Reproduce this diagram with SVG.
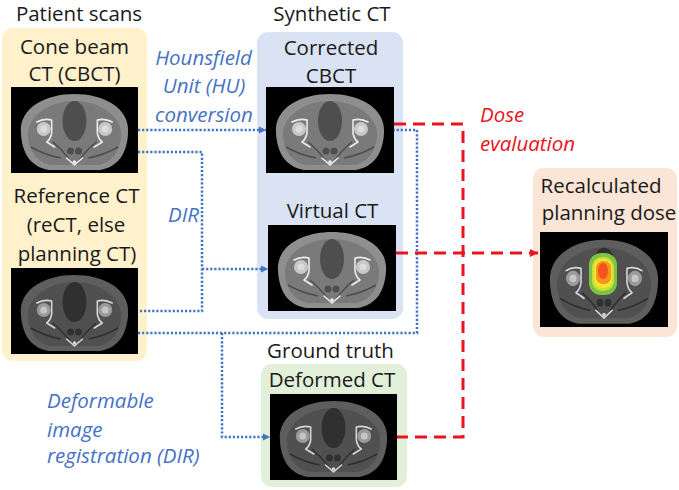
<svg xmlns="http://www.w3.org/2000/svg" xmlns:xlink="http://www.w3.org/1999/xlink" width="679" height="490" viewBox="0 0 679 490">
<style>
text{font-family:"Open Sans","Noto Sans","DejaVu Sans",sans-serif;font-size:20.5px;fill:#1a1a1a}
.c{text-anchor:middle}
.bl{fill:#4472C4;font-style:italic}
.rd{fill:#E8141E;font-style:italic}
.dot{fill:none;stroke:#4472C4;stroke-width:2.5;stroke-dasharray:2.2 1.9}
.dash{fill:none;stroke:#E8141E;stroke-width:3;stroke-dasharray:12 7}
.body{fill:var(--b)}
.mus{fill:var(--m)}
.dk{fill:var(--d)}
.bone{fill:none;stroke:var(--bone);stroke-width:1.6;stroke-linejoin:round;stroke-linecap:round}
.head{fill:var(--h)}
.dl{fill:none;stroke:var(--d);stroke-width:1.6}
.cb{--b:#8e8e8e;--m:#7a7a7a;--d:#4e4e4e;--bone:#ececec;--h:#c8c8c8}
.ct{--b:#5e5e5e;--m:#505050;--d:#303030;--bone:#d6d6d6;--h:#9a9a9a}
</style>
<defs>
<symbol id="scan" viewBox="0 0 128 86" preserveAspectRatio="none">
<rect width="128" height="86" fill="#000"/>
<path class="body" d="M10,46 C8,20 36,7 64,7 C92,7 120,20 118,46 C117,66 108,80 90,83 L38,83 C20,80 11,66 10,46 Z"/>
<path class="mus" d="M17,47 C17,28 40,14 64,14 C88,14 111,28 111,47 C111,64 101,76 88,78 L40,78 C27,76 17,64 17,47 Z"/>
<ellipse class="dk" cx="64" cy="34" rx="12" ry="20"/>
<path class="dl" d="M42,55 Q52,63 59,73 M86,55 Q76,63 69,73 M20,60 Q34,68 50,71 M108,60 Q94,68 78,71"/>
<circle class="dk" cx="60" cy="64" r="3.5"/>
<circle class="dk" cx="68" cy="64" r="3.5"/>
<circle class="head" cx="33" cy="42" r="7"/>
<circle cx="33" cy="42" r="3.5" fill="#f0f0f0" opacity="0.5"/>
<circle class="head" cx="95" cy="42" r="7"/>
<circle cx="95" cy="42" r="3.5" fill="#f0f0f0" opacity="0.5"/>
<path class="bone" d="M26,35 Q33,31 41,33 L41,46 Q40,52 36,55 M102,35 Q95,31 87,33 L87,46 Q88,52 92,55 M36,55 L44,60 M92,55 L84,60"/>
<path class="bone" d="M56,71 L64,78 L72,71"/>
<circle cx="64" cy="75" r="1.8" fill="var(--bone)"/>
</symbol>
<marker id="ab" markerWidth="8" markerHeight="8" refX="7" refY="4" orient="auto" markerUnits="userSpaceOnUse"><path d="M0,0.5 L7,4 L0,7.5 Z" fill="#4472C4"/></marker>
<marker id="ar" markerWidth="9" markerHeight="9" refX="8" refY="4.5" orient="auto" markerUnits="userSpaceOnUse"><path d="M0,0.5 L8,4.5 L0,8.5 Z" fill="#E8141E"/></marker>
</defs>
<rect width="679" height="490" fill="#fff"/>

<g id="patient-scans">
<text x="79" y="21" class="c">Patient scans</text>
<rect x="2" y="28" width="145" height="333" rx="11" fill="#FFF1CC"/>
<text x="74.5" y="54" class="c">Cone beam</text>
<text x="74.5" y="81" class="c">CT (CBCT)</text>
<use xlink:href="#scan" href="#scan" x="11" y="87" width="127" height="86" class="cb"/>
<text x="76.5" y="203" class="c">Reference CT</text>
<text x="76" y="232" class="c">(reCT, else</text>
<text x="77" y="261" class="c">planning CT)</text>
<use xlink:href="#scan" href="#scan" x="11" y="268" width="127" height="86" class="ct"/>
</g>

<g id="synthetic-ct">
<text x="332" y="21" class="c">Synthetic CT</text>
<rect x="257" y="32" width="146" height="287" rx="11" fill="#DAE3F3"/>
<text x="331" y="55" class="c">Corrected</text>
<text x="331" y="83" class="c">CBCT</text>
<use xlink:href="#scan" href="#scan" x="266" y="87" width="128" height="86" class="cb"/>
<text x="332.5" y="218" class="c">Virtual CT</text>
<use xlink:href="#scan" href="#scan" x="268" y="225" width="128" height="86" class="cb"/>
</g>

<g id="ground-truth">
<text x="330.5" y="358" class="c">Ground truth</text>
<rect x="261" y="364" width="146" height="123" rx="11" fill="#E2F0D9"/>
<text x="332" y="387" class="c">Deformed CT</text>
<use xlink:href="#scan" href="#scan" x="270" y="394" width="127" height="86" class="ct"/>
</g>

<g id="recalculated-dose">
<rect x="533" y="168" width="144" height="169" rx="11" fill="#FBE5D6"/>
<text x="601" y="193" class="c">Recalculated</text>
<text x="609" y="220" class="c">planning dose</text>
<use xlink:href="#scan" href="#scan" x="540" y="232" width="128" height="95" class="ct"/>
<rect x="589" y="253" width="28" height="42" rx="12" fill="#7DC242"/>
<rect x="592" y="257" width="22" height="34" rx="10" fill="#C9E03A"/>
<rect x="594" y="259" width="18" height="29" rx="8" fill="#F2E62E"/>
<rect x="596" y="261" width="15" height="23" rx="7" fill="#F7941D"/>
<ellipse cx="603" cy="271" rx="5" ry="8" fill="#F2541B"/>
</g>

<g id="labels">
<text x="203.5" y="65" class="c bl">Hounsfield</text>
<text x="204" y="93" class="c bl">Unit (HU)</text>
<text x="204" y="122" class="c bl">conversion</text>
<text x="168" y="222" class="bl">DIR</text>
<text x="47" y="408" class="bl">Deformable</text>
<text x="47" y="437" class="bl">image</text>
<text x="47" y="463" class="bl">registration (DIR)</text>
<text x="480" y="122" class="rd">Dose</text>
<text x="480" y="151" class="rd">evaluation</text>
</g>

<g id="connectors">
<path class="dot" d="M138,130 H266" marker-end="url(#ab)"/>
<path class="dot" d="M138,152 H202 V311 H138"/>
<path class="dot" d="M202,269 H268" marker-end="url(#ab)"/>
<path class="dot" d="M138,333 H417 V130 H394"/>
<path class="dot" d="M222,333 V437 H270" marker-end="url(#ab)"/>
<path class="dash" d="M394,124 H463 V437 H397"/>
<path class="dash" d="M396,253 H538" marker-end="url(#ar)"/>
</g>
</svg>
